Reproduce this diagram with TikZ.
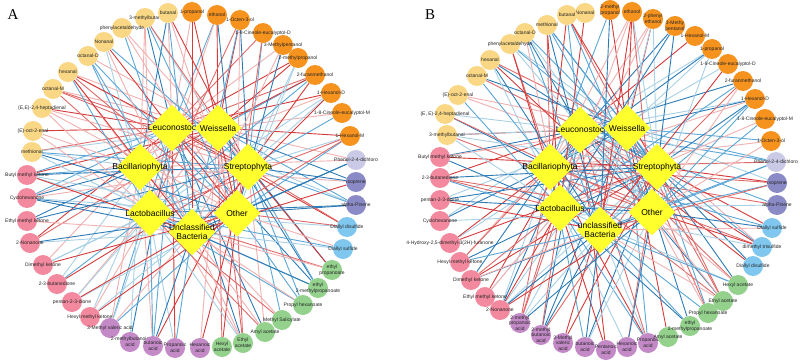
\documentclass[tikz,border=0pt]{standalone}
\usepackage{fontspec}
\setmainfont{Liberation Sans}
\newfontfamily\panelfont{Liberation Serif}
\usetikzlibrary{shapes.geometric,backgrounds}
\definecolor{cAld}{HTML}{F9D784}
\definecolor{cAlc}{HTML}{F6921E}
\definecolor{cKet}{HTML}{F2899E}
\definecolor{cAcid}{HTML}{C48AC8}
\definecolor{cEst}{HTML}{93D18C}
\definecolor{cSul}{HTML}{7FC7EE}
\definecolor{cTer}{HTML}{8A8AC6}
\definecolor{cPhe}{HTML}{CACAE6}
\definecolor{cDia}{HTML}{FFFF2E}
\definecolor{eR0}{HTML}{D63A3A}
\definecolor{eR1}{HTML}{E06A6A}
\definecolor{eR2}{HTML}{F2B0B0}
\definecolor{eB0}{HTML}{2C7BB6}
\definecolor{eB1}{HTML}{5BA7D6}
\definecolor{eB2}{HTML}{A8D0E6}
\tikzset{
  cn/.style={circle,minimum size=20pt,inner sep=0pt,draw=none},
  lbl/.style={font=\fontsize{5}{5.6}\selectfont,align=center,inner sep=0pt,text=black!85},
  dia/.style={diamond,fill=cDia,draw=none,minimum width=47pt,minimum height=47pt,inner sep=0pt},
  dlbl/.style={font=\fontsize{8.5}{9.5}\selectfont,align=center,inner sep=0pt},
  edge0/.style={draw=eR0,line width=0.9pt},
  edge1/.style={draw=eR1,line width=0.9pt},
  edge2/.style={draw=eR2,line width=0.9pt},
  edge3/.style={draw=eB0,line width=0.9pt},
  edge4/.style={draw=eB1,line width=0.9pt},
  edge5/.style={draw=eB2,line width=0.9pt},
  panel/.style={font=\panelfont\fontsize{15}{15}\selectfont,inner sep=0pt}
}
\newcommand\mkvn[4]{\node[cn,fill=#3] (#1) at (#2) {}; \node[lbl] at (#1) {#4};}
\newcommand\mkdia[3]{\node[dia] (#1) at (#2) {}; \node[dlbl] at (#1) {#3};}
\begin{document}
\begin{tikzpicture}[x=1pt,y=-1pt]
\useasboundingbox (0,0) rectangle (800,361);
\begin{scope}[on background layer]
\fill[white] (0,0) rectangle (800,361);
\end{scope}
\node[panel] (pA) at (13,15) {A};
\node[panel] (pB) at (430,15) {B};
% ---------- Panel A nodes
\mkvn{a1}{145,18}{cAld}{3-methylbutan}
\mkvn{a2}{168,13}{cAld}{butanal}
\mkvn{a3}{122,28}{cAld}{phenylacetaldehyde}
\mkvn{a4}{104,42}{cAld}{Nonanal}
\mkvn{a5}{88,56}{cAld}{octanal-D}
\mkvn{a6}{68,72}{cAld}{hexanal}
\mkvn{a7}{53,89}{cAld}{octanal-M}
\mkvn{a8}{42,108}{cAld}{(E,E)-2,4-heptadienal}
\mkvn{a9}{33,131}{cAld}{(E)-oct-2-enal}
\mkvn{a10}{32,152}{cAld}{methional}
\mkvn{a11}{27,175}{cKet}{Butyl methyl ketone}
\mkvn{a12}{27,198}{cKet}{Cyclohexanone}
\mkvn{a13}{27,221}{cKet}{Ethyl methyl ketone}
\mkvn{a14}{30,243}{cKet}{2-Nonanone}
\mkvn{a15}{43,265}{cKet}{Dimethyl ketone}
\mkvn{a16}{57,284}{cKet}{2-3-butanedione}
\mkvn{a17}{72,302}{cKet}{pentan-2-3-dione}
\mkvn{a18}{90,317}{cKet}{Hexyl methyl ketone}
\mkvn{a19}{110,328}{cAcid}{3-Methyl valeric acid}
\mkvn{a20}{130,342}{cAcid}{2-methylbutanoic\\acid}
\mkvn{a21}{153,346}{cAcid}{butanoic\\acid}
\mkvn{a22}{175,348}{cAcid}{Propanoic\\acid}
\mkvn{a23}{200,348}{cAcid}{Hexanoic\\acid}
\mkvn{a24}{222,347}{cEst}{Hexyl\\acetate}
\mkvn{a25}{243,343}{cEst}{Ethyl\\acetate}
\mkvn{a26}{265,332}{cEst}{Amyl acetate}
\mkvn{a27}{282,320}{cEst}{Methyl Salicylate}
\mkvn{a28}{303,305}{cEst}{Propyl hexanoate}
\mkvn{a29}{318,288}{cEst}{ethyl\\2-methylpropanoate}
\mkvn{a30}{332,270}{cEst}{ethyl\\propanoate}
\mkvn{a31}{343,249}{cSul}{Diallyl sulfide}
\mkvn{a32}{347,227}{cSul}{Diallyl disulfide}
\mkvn{a33}{356,205}{cTer}{alpha-Pinene}
\mkvn{a34}{356,182}{cTer}{isoprene}
\mkvn{a35}{356,160}{cPhe}{Phenol-2-4-dichloro}
\mkvn{a36}{350,136}{cAlc}{1-Hexanol-M}
\mkvn{a37}{342,113}{cAlc}{1-8-Cineole-eucalyptol-M}
\mkvn{a38}{331,93}{cAlc}{1-Hexanol-D}
\mkvn{a39}{315,75}{cAlc}{2-furanmethanol}
\mkvn{a40}{298,58}{cAlc}{2-methylpropanol}
\mkvn{a41}{283,45}{cAlc}{3-Methylpentanol}
\mkvn{a42}{263,33}{cAlc}{1-8-Cineole-eucalyptol-D}
\mkvn{a43}{240,20}{cAlc}{1-Octen-3-ol}
\mkvn{a44}{217,15}{cAlc}{ethanol}
\mkvn{a45}{192,12}{cAlc}{1-propanol}
% ---------- Panel A diamonds
\mkdia{AL}{172,128}{Leuconostoc}
\mkdia{AW}{218,128}{Weissella}
\mkdia{ABa}{140,167}{Bacillariophyta}
\mkdia{AS}{248,167}{Streptophyta}
\mkdia{ALb}{150,213}{Lactobacillus}
\mkdia{AO}{237,213}{Other}
\mkdia{AU}{192,232}{Unclassified\\Bacteria}
% ---------- Panel B nodes
\mkvn{b1}{585,13}{cAld}{Nonanal}
\mkvn{b2}{567,15}{cAld}{butanal}
\mkvn{b3}{547,25}{cAld}{methional}
\mkvn{b4}{525,33}{cAld}{octanal-D}
\mkvn{b5}{510,44}{cAld}{phenylacetaldehyde}
\mkvn{b6}{490,60}{cAld}{hexanal}
\mkvn{b7}{477,76}{cAld}{octanal-M}
\mkvn{b8}{458,95}{cAld}{(E)-oct-2-enal}
\mkvn{b9}{445,114}{cAld}{(E, E)-2,4-heptadienal}
\mkvn{b10}{447,135}{cAld}{3-methylbutanal}
\mkvn{b11}{440,157}{cKet}{Butyl methyl ketone}
\mkvn{b12}{440,178}{cKet}{2-3-butanedione}
\mkvn{b13}{440,200}{cKet}{pentan-2-3-dione}
\mkvn{b14}{440,221}{cKet}{Cyclohexanone}
\mkvn{b15}{450,243}{cKet}{4-Hydroxy-2,5-dimethyl-3(2H)-furanone}
\mkvn{b16}{460,262}{cKet}{Hexyl methyl ketone}
\mkvn{b17}{471,280}{cKet}{Dimethyl ketone}
\mkvn{b18}{485,297}{cKet}{Ethyl methyl ketone}
\mkvn{b19}{500,310}{cKet}{2-Nonanone}
\mkvn{b20}{520,323}{cAcid}{2-methyl\\propanoic\\acid}
\mkvn{b21}{541,335}{cAcid}{2-methyl\\butanoic\\acid}
\mkvn{b22}{563,343}{cAcid}{3-Methyl\\valeric\\acid}
\mkvn{b23}{585,347}{cAcid}{butanoic\\acid}
\mkvn{b24}{606,350}{cAcid}{Pentanoic\\acid}
\mkvn{b25}{627,347}{cAcid}{Hexanoic\\acid}
\mkvn{b26}{648,343}{cAcid}{Propanoic\\acid}
\mkvn{b27}{668,337}{cEst}{Amyl acetate}
\mkvn{b28}{690,326}{cEst}{ethyl\\2-methylpropanoate}
\mkvn{b29}{708,313}{cEst}{Propyl hexanoate}
\mkvn{b30}{723,301}{cEst}{Ethyl acetate}
\mkvn{b31}{738,285}{cEst}{Hexyl acetate}
\mkvn{b32}{753,266}{cSul}{Diallyl disulfide}
\mkvn{b33}{762,247}{cSul}{dimethyl trisulfide}
\mkvn{b34}{772,228}{cSul}{Diallyl sulfide}
\mkvn{b35}{777,205}{cTer}{alpha-Pinene}
\mkvn{b36}{777,183}{cTer}{isoprene}
\mkvn{b37}{776,162}{cPhe}{Phenol-2-4-dichloro}
\mkvn{b38}{771,141}{cAlc}{1-Octen-3-ol}
\mkvn{b39}{765,119}{cAlc}{1-8-Cineole-eucalyptol-M}
\mkvn{b40}{755,99}{cAlc}{1-Hexanol-D}
\mkvn{b41}{743,81}{cAlc}{2-furanmethanol}
\mkvn{b42}{728,64}{cAlc}{1-8-Cineole-eucalyptol-D}
\mkvn{b43}{712,49}{cAlc}{1-propanol}
\mkvn{b44}{695,36}{cAlc}{1-Hexanol-M}
\mkvn{b45}{675,26}{cAlc}{3-Methy\\pentanol}
\mkvn{b46}{653,19}{cAlc}{2-phenyl\\ethanol}
\mkvn{b47}{632,12}{cAlc}{ethanol}
\mkvn{b48}{610,10}{cAlc}{2-methyl\\propanol}
% ---------- Panel B diamonds
\mkdia{BL}{580,130}{Leuconostoc}
\mkdia{BW}{627,128}{Weissella}
\mkdia{BBa}{550,167}{Bacillariophyta}
\mkdia{BS}{657,167}{Streptophyta}
\mkdia{BLb}{560,208}{Lactobacillus}
\mkdia{BO}{652,212}{Other}
\mkdia{BU}{600,230}{unclassified\\Bacteria}
% ---------- edges
\pgfmathsetseed{11}
\begin{scope}[on background layer]
\foreach \d in {AL,AW,ABa,AS,ALb,AO,AU}{
  \foreach \n in {1,...,45}{
    \pgfmathrandominteger{\rr}{1}{100}
    \ifnum\rr<58
      \pgfmathrandominteger{\cc}{0}{5}
      \draw[edge\cc] (\d) -- (a\n);
    \fi
  }
}
\foreach \d in {BL,BW,BBa,BS,BLb,BO,BU}{
  \foreach \n in {1,...,48}{
    \pgfmathrandominteger{\rr}{1}{100}
    \ifnum\rr<58
      \pgfmathrandominteger{\cc}{0}{5}
      \draw[edge\cc] (\d) -- (b\n);
    \fi
  }
}
\end{scope}
\end{tikzpicture}
\end{document}
